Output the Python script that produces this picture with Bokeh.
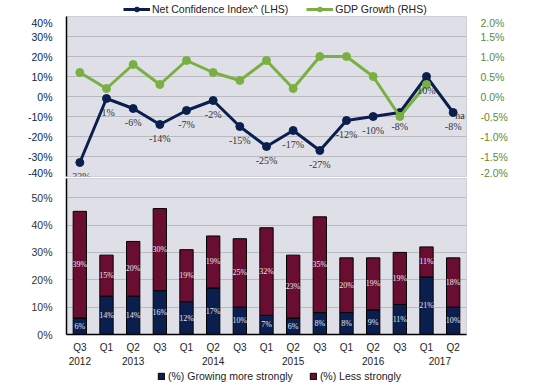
import math
from bokeh.plotting import figure
from bokeh.models import (FactorRange, Range1d, LinearAxis, FixedTicker, Legend,
                          LegendItem, ColumnDataSource, PrintfTickFormatter)
from bokeh.layouts import column
from bokeh.embed import file_html
from bokeh.resources import INLINE

# ---------------- data ----------------
quarters = ["Q3", "Q1", "Q2", "Q3", "Q1", "Q2", "Q3", "Q1", "Q2", "Q3", "Q1", "Q2", "Q3", "Q1", "Q2"]
years = ["2012", "2013", "2013", "2013", "2014", "2014", "2014", "2015", "2015", "2015",
         "2016", "2016", "2016", "2017", "2017"]
net_confidence = [-33, -1, -6, -14, -7, -2, -15, -25, -17, -27, -12, -10, -8, 10, -8]
net_labels = ["-33%", "-1%", "-6%", "-14%", "-7%", "-2%", "-15%", "-25%", "-17%", "-27%",
              "-12%", "-10%", "-8%", "10%", "-8%"]
gdp_growth = [0.6, 0.2, 0.8, 0.3, 0.9, 0.6, 0.4, 0.9, 0.2, 1.0, 1.0, 0.5, -0.5, 0.3, float("nan")]
gdp_na_label = "na"
growing_more = [6, 14, 14, 16, 12, 17, 10, 7, 6, 8, 8, 9, 11, 21, 10]
less_strongly = [39, 15, 20, 30, 19, 19, 25, 32, 23, 35, 20, 19, 19, 11, 18]
lhs_ticks = [-40, -30, -20, -10, 0, 10, 20, 30, 40]
rhs_ticks = [-2.0, -1.5, -1.0, -0.5, 0.0, 0.5, 1.0, 1.5, 2.0]
bar_ticks = [0, 10, 20, 30, 40, 50]

NAVY = "#0b1f4f"
GREEN = "#79b041"
MAROON = "#6a0e31"
BG = "#dfdfe7"
GRID = "#b9b9c0"
FONT = "Liberation Sans"

factors = list(zip(years, quarters))
xr = FactorRange(*factors, factor_padding=0, group_padding=0, range_padding=0)

W = 532
LB = 66
RB = W - LB - 400


def legend_figure(height, **kw):
    f = figure(width=W, height=height, x_range=Range1d(0, 1), y_range=Range1d(0, 1),
               x_axis_location=None, y_axis_location=None, output_backend="svg",
               toolbar_location=None, min_border=0, **kw)
    f.outline_line_color = None
    f.background_fill_alpha = 0
    f.border_fill_alpha = 0
    f.xgrid.grid_line_color = None
    f.ygrid.grid_line_color = None
    return f


def style_legend(leg, spacing, gw, gh, standoff, lh):
    leg.background_fill_alpha = 0
    leg.border_line_color = None
    leg.padding = 0
    leg.margin = 0
    leg.spacing = spacing
    leg.glyph_width = gw
    leg.glyph_height = gh
    leg.label_standoff = standoff
    leg.label_height = lh
    leg.label_text_font = FONT
    leg.label_text_font_size = "10.5px"
    leg.label_text_color = "#222222"


# legend-only renderers sit outside the legend strips' visible ranges
HIDDEN_X = [0, 1]
HIDDEN_Y = [-5, -5]
HIDDEN_B = [-6, -6]

# ---------------- top legend ----------------
lg1 = legend_figure(16)
d_net_l = lg1.line(x=HIDDEN_X, y=HIDDEN_Y, color=NAVY, line_width=3)
d_net_s = lg1.scatter(x=HIDDEN_X, y=HIDDEN_Y, color=NAVY, size=7)
d_gdp_l = lg1.line(x=HIDDEN_X, y=HIDDEN_Y, color=GREEN, line_width=3)
d_gdp_s = lg1.scatter(x=HIDDEN_X, y=HIDDEN_Y, color=GREEN, size=7)
leg1 = Legend(items=[LegendItem(label="Net Confidence Index^ (LHS)", renderers=[d_net_l, d_net_s]),
                     LegendItem(label="GDP Growth (RHS)", renderers=[d_gdp_l, d_gdp_s])],
              orientation="horizontal", location=(57, 1))
style_legend(leg1, 18, 27, 12, 2, 12)
lg1.add_layout(leg1)

# ---------------- top panel ----------------
p1 = figure(width=W, height=162, x_range=xr, y_range=Range1d(-40, 40),
            x_axis_location=None, output_backend="svg", toolbar_location=None,
            min_border_left=LB, min_border_right=RB, min_border_top=0, min_border_bottom=2)
p1.background_fill_color = BG
p1.outline_line_color = "#cfcfd8"
p1.xgrid.grid_line_color = None
p1.ygrid.grid_line_color = GRID
p1.ygrid.ticker = FixedTicker(ticks=lhs_ticks)
p1.yaxis.ticker = FixedTicker(ticks=lhs_ticks)
p1.yaxis.formatter = PrintfTickFormatter(format="%d%%")
p1.yaxis.major_label_text_color = NAVY
p1.yaxis.major_label_text_font = FONT
p1.yaxis.major_label_text_font_size = "10.5px"
p1.yaxis.major_tick_line_color = None
p1.yaxis.minor_tick_line_color = None
p1.yaxis.axis_line_color = "black"
p1.yaxis.axis_line_width = 1.5
p1.yaxis.major_label_standoff = 8

p1.extra_y_ranges = {"gdp": Range1d(-2, 2)}
rax = LinearAxis(y_range_name="gdp", ticker=FixedTicker(ticks=rhs_ticks),
                 formatter=PrintfTickFormatter(format="%.1f%%"))
rax.major_label_text_color = "#5f8a35"
rax.major_label_text_font = FONT
rax.major_label_text_font_size = "10.5px"
rax.major_tick_line_color = None
rax.minor_tick_line_color = None
rax.axis_line_color = None
rax.major_label_standoff = 8
p1.add_layout(rax, "right")

more_mid = [m / 2 for m in growing_more]
less_mid = [m + l / 2 for m, l in zip(growing_more, less_strongly)]

src = ColumnDataSource(dict(x=factors, net=net_confidence, net_lab=net_labels, gdp=gdp_growth,
                            more=growing_more, less=less_strongly,
                            more_mid=more_mid, less_mid=less_mid,
                            more_lab=[f"{v}%" for v in growing_more],
                            less_lab=[f"{v}%" for v in less_strongly]))

p1.line("x", "net", source=src, color=NAVY, line_width=3)
p1.scatter("x", "net", source=src, color=NAVY, size=8)
p1.line("x", "gdp", source=src, color=GREEN, line_width=3, y_range_name="gdp")
p1.scatter("x", "gdp", source=src, color=GREEN, size=8, y_range_name="gdp")

p1.text("x", "net", text="net_lab", source=src, text_align="center", text_baseline="middle",
        y_offset=14, text_font_size="10px", text_color="#333333", text_font=FONT)
na_src = ColumnDataSource(dict(x=[factors[-1]], y=[net_confidence[-1]], t=[gdp_na_label]))
p1.text("x", "y", text="t", source=na_src, text_align="left", text_baseline="middle",
        x_offset=2, y_offset=3, text_font_size="10px", text_color="#333333", text_font=FONT)

# ---------------- bottom panel ----------------
p2 = figure(width=W, height=192, x_range=xr, y_range=Range1d(0, 57),
            output_backend="svg", toolbar_location=None,
            min_border_left=LB, min_border_right=RB, min_border_top=0, min_border_bottom=36)
p2.background_fill_color = BG
p2.outline_line_color = "#cfcfd8"
p2.xgrid.grid_line_color = None
p2.ygrid.grid_line_color = GRID
p2.ygrid.ticker = FixedTicker(ticks=bar_ticks)
p2.yaxis.ticker = FixedTicker(ticks=bar_ticks)
p2.yaxis.formatter = PrintfTickFormatter(format="%d%%")
p2.yaxis.major_label_text_color = "#333333"
p2.yaxis.major_label_text_font = FONT
p2.yaxis.major_label_text_font_size = "10.5px"
p2.yaxis.major_tick_line_color = None
p2.yaxis.minor_tick_line_color = None
p2.yaxis.axis_line_color = "black"
p2.yaxis.axis_line_width = 1.5
p2.yaxis.major_label_standoff = 8

p2.xaxis.axis_line_color = "black"
p2.xaxis.axis_line_width = 1.5
p2.xaxis.major_tick_line_color = None
p2.xaxis.minor_tick_line_color = None
p2.xaxis.major_label_text_font = FONT
p2.xaxis.major_label_text_font_size = "10px"
p2.xaxis.major_label_text_color = "#222222"
p2.xaxis.group_text_font = FONT
p2.xaxis.group_text_font_size = "10px"
p2.xaxis.group_text_color = "#222222"
p2.xaxis.group_text_font_style = "normal"
p2.xaxis.separator_line_color = None
p2.xaxis.major_label_standoff = 1

p2.vbar_stack(["more", "less"], x="x", width=0.5, source=src,
              color=[NAVY, MAROON], line_color="black", line_width=1)

p2.text("x", "more_mid", text="more_lab", source=src, text_align="center", text_baseline="middle",
        text_font_size="8px", text_color="#e6e6ee", text_font=FONT)
p2.text("x", "less_mid", text="less_lab", source=src, text_align="center", text_baseline="middle",
        text_font_size="8px", text_color="#e6e6ee", text_font=FONT)

# ---------------- bottom legend ----------------
lg2 = legend_figure(14)
d_more = lg2.vbar(x=HIDDEN_X, bottom=HIDDEN_B, top=HIDDEN_Y, width=0.1,
                  fill_color=NAVY, line_color="black")
d_less = lg2.vbar(x=HIDDEN_X, bottom=HIDDEN_B, top=HIDDEN_Y, width=0.1,
                  fill_color=MAROON, line_color="black")
leg2 = Legend(items=[LegendItem(label="(%) Growing more strongly", renderers=[d_more]),
                     LegendItem(label="(%) Less strongly", renderers=[d_less])],
              orientation="horizontal", location=(91, 2))
style_legend(leg2, 16, 8, 8, 3, 10)
lg2.add_layout(leg2)

layout = column(lg1, p1, p2, lg2, spacing=0)
open("out.html", "w").write(file_html(layout, INLINE))
